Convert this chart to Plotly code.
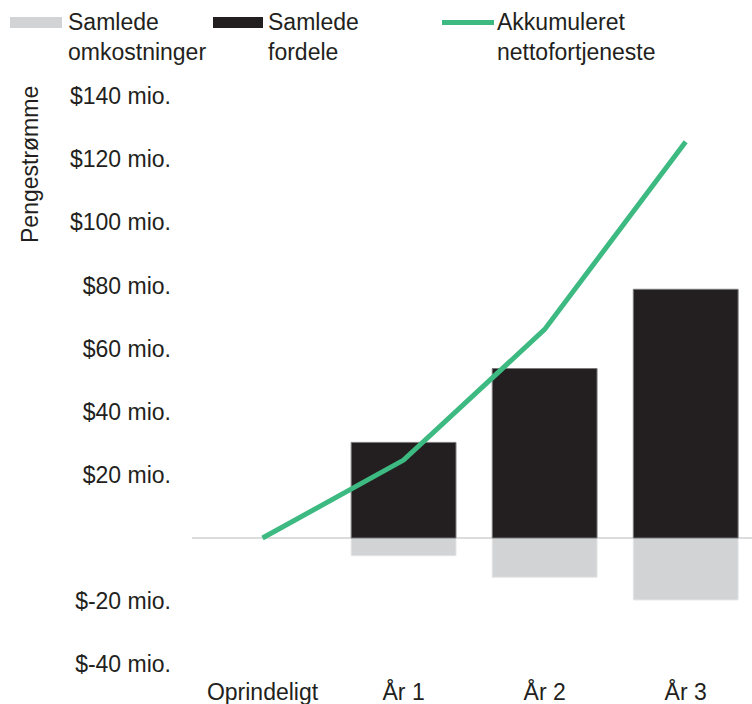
import plotly.graph_objects as go

categories = ["Oprindeligt", "År 1", "År 2", "År 3"]
costs = [None, -5.6, -12.4, -19.6]
benefits = [None, 30.3, 53.7, 78.8]
cumulative = [0, 24.7, 66.1, 125.5]
tick_vals = [140, 120, 100, 80, 60, 40, 20, -20, -40]
tick_text = ["$140 mio.", "$120 mio.", "$100 mio.", "$80 mio.", "$60 mio.",
             "$40 mio.", "$20 mio.", "$-20 mio.", "$-40 mio."]
legend_labels = ["Samlede<br>omkostninger", "Samlede<br>fordele", "Akkumuleret<br>nettofortjeneste"]

GRAY = "#d1d3d4"
BLACK = "#231f20"
GREEN = "#3dba81"
FONT = "Liberation Sans, Arial, sans-serif"

W, H = 752, 704
L, R, T, B = 192, 0, 80, 28
PW, PH = W - L - R, H - T - B


def px2x(px):
    return (px - L) / PW


def px2y(py):
    return (H - B - py) / PH


fig = go.Figure()
fig.add_trace(go.Bar(x=categories, y=costs, name=legend_labels[0], width=0.743,
                     marker=dict(color=GRAY, line=dict(color="#e4e5e6", width=1))))
fig.add_trace(go.Bar(x=categories, y=benefits, name=legend_labels[1], width=0.743,
                     marker=dict(color=BLACK, line=dict(color="#7a7a7c", width=1))))
fig.add_trace(go.Scatter(x=categories, y=cumulative, name=legend_labels[2], mode="lines",
                         line=dict(color=GREEN, width=5)))

shapes = [
    dict(type="rect", xref="paper", yref="paper", x0=px2x(10), x1=px2x(62),
         y0=px2y(28), y1=px2y(17), fillcolor=GRAY, line=dict(width=0)),
    dict(type="rect", xref="paper", yref="paper", x0=px2x(213), x1=px2x(263),
         y0=px2y(28), y1=px2y(17), fillcolor=BLACK, line=dict(width=0)),
    dict(type="line", xref="paper", yref="paper", x0=px2x(442), x1=px2x(494),
         y0=px2y(22.5), y1=px2y(22.5), line=dict(color=GREEN, width=5)),
]
annotations = []
for xpx, txt in zip([66, 266, 495], legend_labels):
    annotations.append(dict(xref="paper", yref="paper", x=px2x(xpx), y=px2y(37),
                            xanchor="left", yanchor="middle", align="left", showarrow=False,
                            text=txt, font=dict(family=FONT, size=23, color="#231f20")))
annotations.append(dict(xref="paper", yref="paper", x=px2x(30), y=px2y(164),
                        xanchor="center", yanchor="middle", showarrow=False, textangle=-90,
                        text="Pengestrømme", font=dict(family=FONT, size=23, color="#231f20")))

fig.update_layout(
    width=W, height=H,
    margin=dict(l=L, r=R, t=T, b=B, pad=0),
    barmode="relative",
    showlegend=False,
    plot_bgcolor="white", paper_bgcolor="white",
    font=dict(family=FONT, size=23, color="#231f20"),
    shapes=shapes, annotations=annotations,
    xaxis=dict(range=[-0.5, 3.47], showgrid=False, zeroline=False, showline=False,
               ticks="", automargin=False, tickfont=dict(size=23), ticklabelstandoff=0),
    yaxis=dict(range=[-43.7, 145.1], tickvals=tick_vals, ticktext=tick_text,
               showgrid=False, zeroline=True, zerolinecolor="#dcdcdc", zerolinewidth=2,
               showline=False, ticks="", automargin=False, tickfont=dict(size=23),
               ticklabelstandoff=20),
)

fig.write_html("out.html")
